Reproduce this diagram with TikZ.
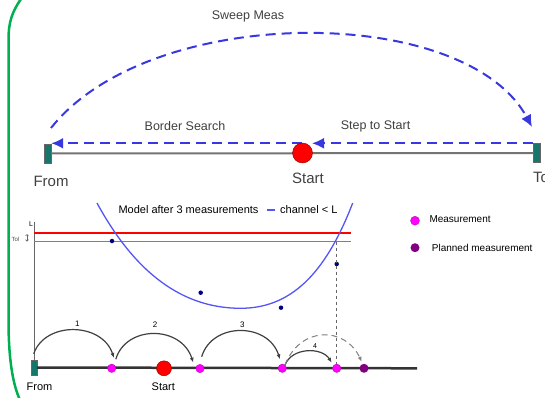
\documentclass[tikz,border=0pt]{standalone}
\usepackage{fontspec}
\setmainfont{Liberation Sans}
\usetikzlibrary{arrows.meta,positioning}
\definecolor{framegreen}{HTML}{00B050}
\definecolor{sweepblue}{HTML}{3838E0}
\definecolor{modelblue}{HTML}{5555F5}
\definecolor{endteal}{HTML}{17766B}
\definecolor{measmagenta}{HTML}{FF00FF}
\definecolor{planpurple}{HTML}{800080}
\definecolor{labelgray}{HTML}{404040}
\definecolor{limitred}{HTML}{FF0000}
\begin{document}
\begin{tikzpicture}[x=1pt,y=-1pt,every node/.style={inner sep=0pt,font=\fontsize{11}{12}\selectfont},
endbox/.style={draw=black!60,fill=endteal,minimum width=7pt,minimum height=19pt},
startdot/.style={circle,draw=red!55!black,fill=red,minimum size=20pt},
measdot/.style={circle,fill=measmagenta,draw=measmagenta!70!black,line width=.3pt,minimum size=8.5pt},
plandot/.style={circle,fill=planpurple,minimum size=9pt},
modeldot/.style={circle,fill=blue!50!black,minimum size=4.5pt},
searcharrow/.style={draw=sweepblue,line width=2pt,dash pattern=on 10pt off 6pt,-{Latex[length=12pt,width=11pt]}},
jumparrow/.style={draw=black!75,line width=1.2pt,-{Latex[length=5pt,width=4pt]}},
toplabel/.style={text=labelgray,font=\fontsize{12.5}{14}\selectfont},
endlabel/.style={text=labelgray,font=\fontsize{15}{17}\selectfont}]
\useasboundingbox (0,0) rectangle (545,398);\clip (0,0) rectangle (545,398);
\draw[framegreen,line width=2.5pt] (21,-1) .. controls (12,12) and (8.5,22) .. (8.5,40) -- (8.5,320) .. controls (8.5,360) and (13,385) .. (20,400);
% sweep line
\node[endbox] (from) at (47.5,153.5) {};\node[endbox] (to) at (537,153) {};
\draw[black!55,line width=2pt] (from) -- (to);
\draw[searcharrow] (to.north west) -- (to.north west -| 312,0);
\draw[searcharrow] (302,143.3) -- (302,143.3 -| from.east);
\node[startdot] (start) at (302.5,153) {};
\coordinate (sweepbeg) at (51,128);\coordinate (sweepend) at (532,127);
\draw[searcharrow] (sweepbeg) .. controls (150,3) and (465,3) .. (sweepend);
\node[toplabel] (sweeplbl) at (248,16.5) {Sweep Meas};
\node[toplabel] (borderlbl) at (185,126.5) {Border Search};\node[toplabel] (steplbl) at (375.5,126.5) {Step to Start};
\node[endlabel] (fromlbl) at (51,181) {From};\node[endlabel] (startlbl) at (308,178) {Start};\node[endlabel,anchor=west] (tolbl) at (533,177) {To};
% model plot
\coordinate (axistop) at (34,221.7);\coordinate (axisbot) at (34,368);
\draw[black!60,line width=1pt] (axistop) -- (axisbot);
\coordinate (limbeg) at (34,233.3);\coordinate (limend) at (351,233.3);\coordinate (tolbeg) at (34,241.7);\coordinate (tolend) at (351,241.7);
\draw[black!50,line width=1.2pt] (tolbeg) -- (tolend);\fill[limitred] ([yshift=1pt]limbeg) rectangle ([yshift=-1pt]limend);
\node[font=\fontsize{7}{8}\selectfont] (limlbl) at (31,224) {L};\node[font=\fontsize{6}{7}\selectfont,text=black!70] (tollbl) at (15.5,239) {Tol};
\draw[black!60,line width=.6pt,{Straight Barb[length=1.5pt]}-{Straight Barb[length=1.5pt]}] (27,234) -- (27,241.5);
\draw[modelblue,line width=1.3pt] (97,203) .. controls (140,282) and (190,308) .. (240,308.3) .. controls (290,308.5) and (325,275) .. (352.7,203);
\node[modeldot] (d1) at (112,241) {};\node[modeldot] (d2) at (200.7,292.7) {};\node[modeldot] (d3) at (281,307.7) {};\node[modeldot] (d4) at (336.7,264) {};
\node[anchor=west] (modeltxt) at (118.3,210) {Model after 3 measurements};
\draw[modelblue,line width=1.3pt] (266.7,210) -- (275,210);
\node[anchor=west] (chantxt) at (280,210) {channel < L};
% measurements
\coordinate (cross) at (336.7,241.7);\coordinate (lineend) at (417,368.3);
\node[draw=black!60,fill=endteal,minimum width=6pt,minimum height=15pt] (fromb) at (33.7,367.5) {};
\draw[black!80,line width=2.5pt] (fromb) -- (lineend);
\node[measdot] (m1) at (111.7,368.3) {};\node[measdot] (m2) at (200,368.5) {};\node[measdot] (m3) at (282.3,368.3) {};\node[measdot] (m4) at (336.7,368.3) {};
\node[plandot] (p5) at (364,368.3) {};
\node[startdot,minimum size=15pt] (startb) at (164,368.3) {};
\draw[black!60,dashed,line width=1pt] (cross) -- (m4);
\node (fromblbl) at (39.5,386.5) {From};\node (startblbl) at (163.3,386.7) {Start};
\draw[jumparrow] ([yshift=6pt]fromb.north) .. controls (45,321) and (102,322) .. (114,358);
\draw[jumparrow] (m1.north east) ++(1,-6) .. controls (126,325) and (181,325) .. (193.3,362.7);
\draw[jumparrow] (201.7,356.7) .. controls (212,322) and (268,322) .. (280,359.3);
\draw[jumparrow] (285,365) .. controls (292,347) and (322,347) .. (331.7,362.7);
\draw[black!50,line width=1pt,dash pattern=on 6pt off 4pt,-{Latex[length=5pt,width=4pt]}] (285,365) .. controls (300,326) and (345,326) .. (361.7,361.7);
\node[font=\fontsize{8}{9}\selectfont] (n1) at (77.3,324) {1};\node[font=\fontsize{8}{9}\selectfont] (n2) at (155,325) {2};
\node[font=\fontsize{8}{9}\selectfont] (n3) at (242.3,325) {3};\node[font=\fontsize{7}{8}\selectfont] (n4) at (315,346) {4};
% legend
\node[measdot,minimum size=9pt] (legm) at (415,220.7) {};\node[anchor=west,font=\fontsize{10}{11}\selectfont] (legmtxt) at (429.3,219) {Measurement};
\node[plandot] (legp) at (415,247.7) {};\node[anchor=west,font=\fontsize{10}{11}\selectfont] (legptxt) at (431.7,247.7) {Planned measurement};
\end{tikzpicture}
\end{document}
